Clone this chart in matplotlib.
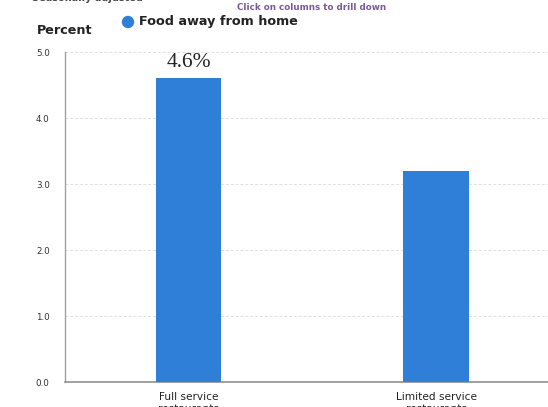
import matplotlib
matplotlib.use("Agg")
import matplotlib.pyplot as plt

categories = ["Full service\nrestaurants", "Limited service\nrestaurants"]
values = [4.6, 3.2]
value_labels = ["4.6%", None]
series_name = "Food away from home"
y_ticks = [0.0, 1.0, 2.0, 3.0, 4.0, 5.0]

W, H = 548, 407
fig = plt.figure(figsize=(W / 100, H / 100), dpi=100)

def fx(px):
    return px / W

def fy(py):
    return 1 - py / H

ax_left, ax_right, ax_top, ax_bottom = 65, 548, 52, 382
ax = fig.add_axes([fx(ax_left), fy(ax_bottom), fx(ax_right - ax_left),
                   (ax_bottom - ax_top) / H])

bar_color = "#2f7ed8"
x = list(range(len(categories)))
ax.bar(x, values, width=0.263, color=bar_color, zorder=3)

ax.set_ylim(0, 5)
ax.set_xlim(-0.499, 1.4525)
ax.set_yticks(y_ticks)
ax.set_yticklabels([f"{v:.1f}" for v in y_ticks], fontsize=6.3, color="#333333")
ax.set_xticks(x)
ax.set_xticklabels(categories, fontsize=7.6, color="#222222",
                   family="DejaVu Sans", linespacing=1.25, va="top")
ax.tick_params(axis="both", length=0)
ax.tick_params(axis="y", pad=11)
ax.tick_params(axis="x", pad=7)

for y in y_ticks[1:]:
    ax.axhline(y, color="#e0e0e0", lw=0.7, ls=(0, (3, 2)), zorder=1)

for side in ["top", "right"]:
    ax.spines[side].set_visible(False)
ax.spines["left"].set_color("#a0a0a0")
ax.spines["bottom"].set_color("#909090")
ax.spines["left"].set_linewidth(1.0)
ax.spines["bottom"].set_linewidth(1.2)

for xi, v, lab in zip(x, values, value_labels):
    if lab:
        ax.text(xi, v + 0.17, lab, ha="center", va="baseline",
                fontsize=15.5, family="Liberation Serif", color="#222222",
                zorder=4)

# header texts
fig.text(fx(32), fy(1), "Seasonally adjusted", fontsize=7, fontweight="bold",
         color="#444444", va="baseline", ha="left")
fig.text(fx(312), fy(7), "Click on columns to drill down", fontsize=6.3,
         fontweight="bold", color="#7c5a93", ha="center", va="center")
fig.text(fx(37), fy(30), "Percent", fontsize=9.2, fontweight="bold",
         color="#222222", ha="left", va="center")
fig.patches.append(matplotlib.patches.Ellipse((fx(128), fy(22)), 11 / W, 11 / H,
                                              transform=fig.transFigure,
                                              color=bar_color))
fig.text(fx(139), fy(22), series_name, fontsize=9.2, fontweight="bold",
         color="#222222", ha="left", va="center")

fig.savefig("out.png", dpi=100)
